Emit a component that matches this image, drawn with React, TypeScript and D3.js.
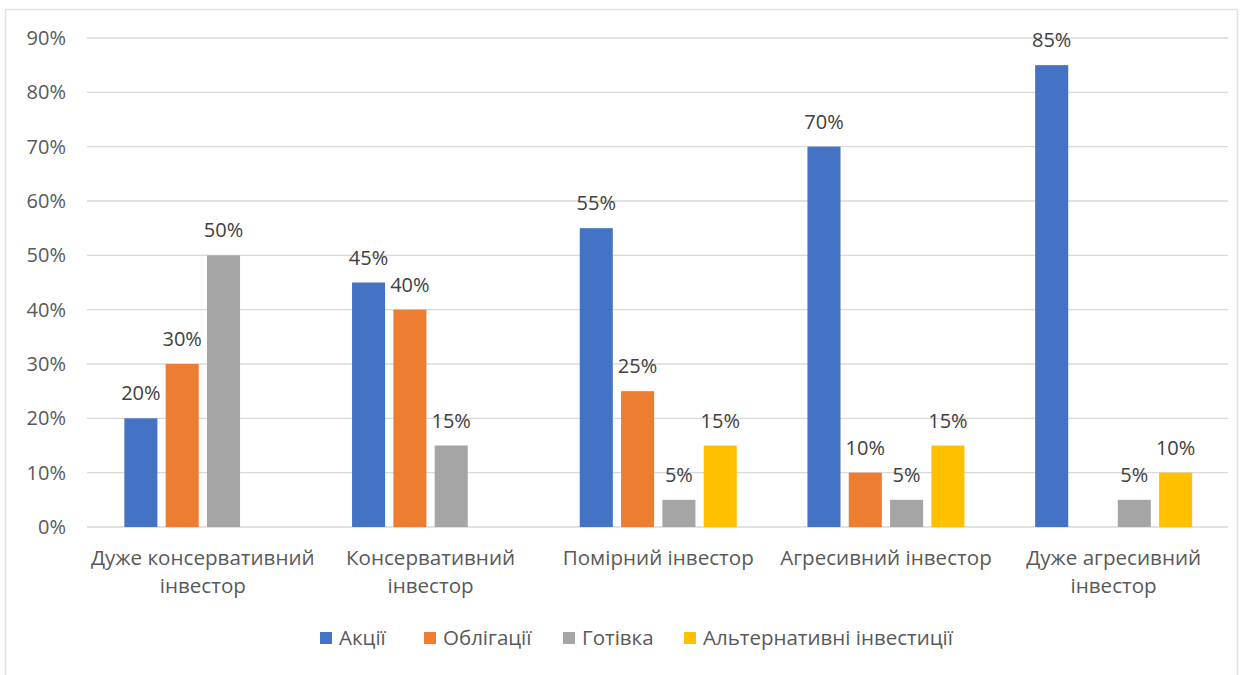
import React from "react";
import * as d3 from "d3";

const categories: string[][] = [
  ["Дуже консервативний", "інвестор"],
  ["Консервативний", "інвестор"],
  ["Помірний інвестор"],
  ["Агресивний інвестор"],
  ["Дуже агресивний", "інвестор"],
];
const seriesNames = ["Акції", "Облігації", "Готівка", "Альтернативні інвестиції"];
const stocks = [20, 45, 55, 70, 85];
const bonds = [30, 40, 25, 10, 0];
const cash = [50, 15, 5, 5, 5];
const alternatives = [0, 0, 15, 15, 10];
const yTicks = [0, 10, 20, 30, 40, 50, 60, 70, 80, 90];
const colors = ["#4472C4", "#ED7D31", "#A5A5A5", "#FFC000"];

const W = 1254;
const H = 675;
const FONT = "'Open Sans', 'Noto Sans', sans-serif";

export default function App() {
  const seriesValues = [stocks, bonds, cash, alternatives];
  const x0 = d3
    .scaleBand<number>()
    .domain(categories.map((_, i) => i))
    .range([89, 1227.5])
    .paddingInner(0)
    .paddingOuter(0);
  const cw = x0.bandwidth();
  const groupW = 157;
  const x1 = d3
    .scaleBand<number>()
    .domain(seriesNames.map((_, i) => i))
    .range([(cw - groupW) / 2, (cw + groupW) / 2])
    .paddingInner(0.2)
    .paddingOuter(0);
  const y = d3.scaleLinear().domain([0, 90]).range([527, 38]);

  const legendX = [320, 424, 563, 684];

  return (
    <svg
      width={W}
      height={H}
      style={{ position: "absolute", left: 0, top: 0, background: "#fff" }}
      fontFamily={FONT}
    >
      <rect x={0} y={0} width={W} height={H} fill="#fff" />
      <path d="M5.5,680 V9.5 H1237.5 V680" fill="none" stroke="#E3E3E3" strokeWidth={1.5} />
      {yTicks.map((t) => (
        <g key={t}>
          <line x1={87} x2={1228} y1={y(t)} y2={y(t)} stroke="#D9D9D9" strokeWidth={1.3} />
          <text
            x={66}
            y={y(t)}
            dy="0.35em"
            textAnchor="end"
            fontSize={20}
            fill="#595959"
          >
            {t}%
          </text>
        </g>
      ))}
      {categories.map((lines, ci) => (
        <g key={ci} transform={`translate(${x0(ci)},0)`}>
          {seriesValues.map((vals, si) => {
            const v = vals[ci];
            if (!v) return null;
            const bx = x1(si)!;
            return (
              <g key={si}>
                <rect
                  x={bx}
                  y={y(v)}
                  width={x1.bandwidth()}
                  height={y(0) - y(v)}
                  fill={colors[si]}
                />
                <text
                  x={bx + x1.bandwidth() / 2}
                  y={y(v) - 18}
                  textAnchor="middle"
                  fontSize={20}
                  fill="#404040"
                >
                  {v}%
                </text>
              </g>
            );
          })}
          {lines.map((ln, li) => (
            <text
              key={li}
              x={cw / 2}
              y={565 + li * 28}
              textAnchor="middle"
              fontSize={20.6}
              fill="#595959"
            >
              {ln}
            </text>
          ))}
        </g>
      ))}
      {seriesNames.map((name, i) => (
        <g key={name} transform={`translate(${legendX[i]},638)`}>
          <rect x={0} y={-6} width={12} height={12} fill={colors[i]} />
          <text x={19} y={0} dy="0.35em" fontSize={20.5} fill="#595959">
            {name}
          </text>
        </g>
      ))}
    </svg>
  );
}
